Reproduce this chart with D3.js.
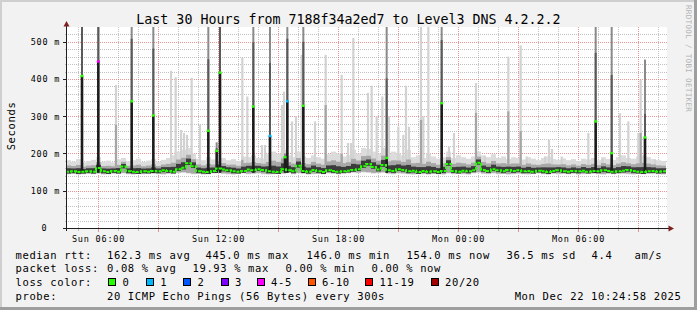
<!DOCTYPE html>
<html><head><meta charset="utf-8">
<script src="https://cdn.jsdelivr.net/npm/d3@7"></script>
<style>html,body{margin:0;padding:0;background:#f2f2f2;}svg{display:block;}</style>
</head><body><svg id="c" width="697" height="310"></svg>
<script>
// ---------------- data ----------------
const titleText = "Last 30 Hours from 7188f34a2ed7 to Level3 DNS 4.2.2.2";
const startTime = "2025-12-21 04:25";
const endTime = "2025-12-22 10:25";
const binMinutes = 15;
// baseline median rtt per 15-minute bin (ms)
const baseMedian = [151,152,150,151,152,151,161,152,150,153,
  151,165,152,151,150,152,151,153,152,155,
  153,151,158,162,174,166,152,151,150,153,
  160,157,155,152,151,153,157,155,158,156,
  152,151,150,158,155,152,167,153,151,156,
  152,150,155,153,151,152,154,156,158,166,
  172,164,157,169,155,153,158,156,152,154,
  150,153,151,152,150,153,172,153,151,154,
  152,155,175,156,153,158,155,152,156,153,
  155,152,153,151,154,152,150,153,155,152,
  151,153,152,154,151,153,152,155,153,151,
  152,154,156,153,151,150,152,153,151,152];
// lowest ping per bin (ms)
const baseLow = [144,145,143,144,146,144,145,143,144,145,
  145,146,144,143,145,144,146,145,144,143,
  145,146,147,148,146,144,145,143,144,146,
  147,145,144,143,145,146,144,145,146,144,
  143,144,146,145,147,144,146,145,143,144,
  145,144,146,145,144,147,146,148,147,149,
  148,146,147,148,145,144,146,145,144,143,
  145,144,143,145,144,143,146,144,145,144,
  143,146,148,145,144,146,144,145,143,144,
  145,144,143,145,146,144,143,145,144,146,
  144,145,143,144,146,145,144,143,145,144,
  146,145,144,143,145,144,146,145,144,143];
// highest ping per bin outside the spikes (ms)
const baseHigh = [182,178,185,176,180,183,190,178,181,176,
  184,188,179,182,186,177,181,185,178,183,
  188,195,205,210,215,200,186,182,190,184,
  195,188,182,185,180,192,190,195,188,186,
  198,205,200,210,195,190,205,192,188,195,
  190,186,198,205,200,192,195,210,200,215,
  212,205,200,215,198,205,200,195,210,190,
  195,188,200,192,186,190,205,188,195,190,
  186,192,205,195,190,198,188,192,185,190,
  188,184,190,186,182,188,192,185,183,187,
  182,185,180,186,184,188,182,190,185,183,
  190,195,188,186,192,195,190,185,182,180];
// samples whose median jumped (ms), with their max ping and loss class
const spikeTimes = ["2025-12-21 05:13","2025-12-21 06:02","2025-12-21 07:42","2025-12-21 08:47",
  "2025-12-21 11:32","2025-12-21 11:57","2025-12-21 12:07","2025-12-21 13:47","2025-12-21 14:37",
  "2025-12-21 15:22","2025-12-21 15:29","2025-12-21 16:17","2025-12-21 20:27","2025-12-21 23:12",
  "2025-12-22 06:54","2025-12-22 07:42","2025-12-22 09:22"];
const spikeMedian = [408,447,340,302,261,207,417,326,247,190,340,328,188,335,286,201,243];
const spikeMax =    [900,900,900,900,900,230,900,900,900,200,900,900,900,900,900,900,452];
const spikeLoss =   [0,4,0,0,0,0,0,0,1,0,1,0,0,0,0,0,0];
// smoke-only spikes: max ping and darker inner part (0 = none)
const smokeTimes = ["2025-12-21 06:55","2025-12-21 09:40","2025-12-21 09:54","2025-12-21 10:10",
  "2025-12-21 10:19","2025-12-21 10:28","2025-12-21 10:42","2025-12-21 11:07","2025-12-21 13:14",
  "2025-12-21 13:29","2025-12-21 14:13","2025-12-21 14:22","2025-12-21 15:13","2025-12-21 15:19",
  "2025-12-21 15:43","2025-12-21 15:55","2025-12-21 16:12","2025-12-21 16:52","2025-12-21 17:24",
  "2025-12-21 18:12","2025-12-21 18:31","2025-12-21 18:40","2025-12-21 18:47","2025-12-21 19:31",
  "2025-12-21 19:42","2025-12-21 19:57","2025-12-21 20:14","2025-12-21 20:34","2025-12-21 21:02",
  "2025-12-21 21:17","2025-12-21 21:25","2025-12-21 21:34","2025-12-21 22:10","2025-12-21 22:17",
  "2025-12-21 22:32","2025-12-21 23:34","2025-12-21 23:49","2025-12-22 00:55","2025-12-22 01:22",
  "2025-12-22 02:32","2025-12-22 03:09","2025-12-22 03:27","2025-12-22 04:22","2025-12-22 04:34",
  "2025-12-22 04:43","2025-12-22 05:12","2025-12-22 06:32","2025-12-22 07:15","2025-12-22 08:07",
  "2025-12-22 08:32","2025-12-22 09:02","2025-12-22 09:09","2025-12-22 09:52"];
const smokeMax = [384,422,405,263,255,250,403,277,457,
  353,223,223,330,366,286,300,465,286,465,
  411,228,228,510,363,382,300,353,300,272,
  250,382,272,900,300,900,218,255,389,192,
  460,490,192,192,237,212,192,255,186,308,
  286,255,398,183];
const smokeMid = [277,0,0,0,0,0,0,0,183,
  0,0,0,0,0,0,0,0,0,330,
  199,0,0,0,0,0,0,0,0,0,
  0,0,0,290,0,0,0,0,309,0,
  313,260,0,0,0,0,0,0,0,0,
  0,0,255,0];
const yTicks = [0,100,200,300,400,500];
const yTickLabels = ["0","100 m","200 m","300 m","400 m","500 m"];
const xLabelTimes = ["2025-12-21 06:00","2025-12-21 12:00","2025-12-21 18:00","2025-12-22 00:00","2025-12-22 06:00"];
const xTickLabels = ["Sun 06:00","Sun 12:00","Sun 18:00","Mon 00:00","Mon 06:00"];
const lossLabels = ["0","1","2","3","4-5","6-10","11-19","20/20"];
const lossColors = ["#26ff00","#00b8ff","#0059ff","#7e00ff","#ff00ff","#ff5500","#ff0000","#a10000"];
const rttStats = ["162.3 ms avg","445.0 ms max","146.0 ms min","154.0 ms now","36.5 ms sd","4.4","am/s"];
const lossStats = ["0.08 % avg","19.93 % max","0.00 % min","0.00 % now"];
const probeText = "20 ICMP Echo Pings (56 Bytes) every 300s";
const dateText = "Mon Dec 22 10:24:58 2025";

// ---------------- layout ----------------
const W = 697, H = 310;
const X0 = 66, X1 = 666, YB = 228, YT = 27;
const parse = d3.utcParse("%Y-%m-%d %H:%M");
const t0 = parse(startTime), t1 = parse(endTime);
const x = d3.scaleUtc().domain([t0, t1]).range([X0, X1]);
const y = d3.scaleLinear().domain([0, 539.5]).range([YB, YT]);
const mono = "DejaVu Sans Mono";
const svg = d3.select("#c");

// background & frame
svg.append("rect").attr("width", W).attr("height", H).attr("fill", "#f2f2f2");
svg.append("rect").attr("x",0).attr("y",0).attr("width",W).attr("height",2).attr("fill","#cfcfcf");
svg.append("rect").attr("x",0).attr("y",0).attr("width",2).attr("height",H).attr("fill","#cfcfcf");
svg.append("rect").attr("x",0).attr("y",H-3).attr("width",W).attr("height",3).attr("fill","#9e9e9e");
svg.append("rect").attr("x",W-3).attr("y",0).attr("width",3).attr("height",H).attr("fill","#9e9e9e");
// canvas
svg.append("rect").attr("x", X0).attr("y", YT).attr("width", X1 - X0 + 1).attr("height", YB - YT).attr("fill", "#ffffff");

// grid
const grid = svg.append("g");
const minorY = d3.range(20, 540, 20).filter(v => v % 100 !== 0);
const majorY = yTicks.filter(v => v > 0);
const hours = d3.utcHour.range(d3.utcHour.ceil(t0), t1);
const minorX = hours.filter(h => h.getUTCHours() % 3 !== 0);
const majorX = hours.filter(h => h.getUTCHours() % 3 === 0);
const crisp = v => Math.round(v) + 0.5;
const gMinor = "rgba(143,143,143,0.55)", gMajor = "rgba(222,79,79,0.6)";
minorY.forEach(v => grid.append("line").attr("x1", X0).attr("x2", X1 + 1).attr("y1", crisp(y(v))).attr("y2", crisp(y(v)))
  .attr("stroke", gMinor).attr("stroke-dasharray", "1,1"));
minorX.forEach(t => grid.append("line").attr("x1", crisp(x(t))).attr("x2", crisp(x(t))).attr("y1", YT).attr("y2", YB)
  .attr("stroke", gMinor).attr("stroke-dasharray", "1,1"));
majorY.forEach(v => grid.append("line").attr("x1", X0).attr("x2", X1 + 1).attr("y1", crisp(y(v))).attr("y2", crisp(y(v)))
  .attr("stroke", gMajor).attr("stroke-dasharray", "1,1"));
majorX.forEach(t => grid.append("line").attr("x1", crisp(x(t))).attr("x2", crisp(x(t))).attr("y1", YT).attr("y2", YB)
  .attr("stroke", gMajor).attr("stroke-dasharray", "1,1"));

// clip
svg.append("clipPath").attr("id", "clip").append("rect").attr("x", X0 + 1).attr("y", YT).attr("width", X1 - X0).attr("height", YB - YT);
const plot = svg.append("g").attr("clip-path", "url(#clip)");

const bins = baseMedian.map((m, k) => ({
  a: d3.utcMinute.offset(t0, k * binMinutes), b: d3.utcMinute.offset(t0, (k + 1) * binMinutes),
  med: m, lo: baseLow[k], hi: baseHigh[k]
}));
function band(sel, data, lo, hi, color) {
  sel.selectAll(null).data(data).enter().append("rect")
    .attr("x", d => x(d.a)).attr("width", d => x(d.b) - x(d.a))
    .attr("y", d => y(hi(d))).attr("height", d => Math.max(0, y(lo(d)) - y(hi(d))))
    .attr("fill", color);
}
// light outer smoke
band(plot, bins, d => d.lo, d => d.hi, "#dcdcdc");

// smoke-only spikes
const smokes = smokeTimes.map((s, i) => ({ t: parse(s), max: smokeMax[i], mid: smokeMid[i] }));
plot.selectAll(null).data(smokes).enter().append("rect")
  .attr("x", d => x(d.t) - 1.1).attr("width", 2.2)
  .attr("y", d => y(d.max)).attr("height", d => y(150) - y(d.max)).attr("fill", "#d2d2d2");
plot.selectAll(null).data(smokes.filter(d => d.mid > 0)).enter().append("rect")
  .attr("x", d => x(d.t) - 1.1).attr("width", 2.2)
  .attr("y", d => y(d.mid)).attr("height", d => y(150) - y(d.mid)).attr("fill", "#a5a5a5");

// inner smoke
band(plot, bins, d => d.lo + 2, d => d.med + (d.hi - d.med) * 0.55, "#a8a8a8");
band(plot, bins, d => d.med - 5, d => d.med + (d.hi - d.med) * 0.3, "#3c3c3c");

// median spikes
const spikes = spikeTimes.map((s, i) => ({ t: parse(s), med: spikeMedian[i], max: spikeMax[i], loss: spikeLoss[i] }));
plot.selectAll(null).data(spikes).enter().append("rect")
  .attr("x", d => x(d.t) - 1).attr("width", 2)
  .attr("y", d => y(d.max)).attr("height", d => Math.max(0, y(d.med) - y(d.max))).attr("fill", "#8a8a8a");
plot.selectAll(null).data(spikes).enter().append("rect")
  .attr("x", d => x(d.t) - 1).attr("width", 2)
  .attr("y", d => y(Math.min(d.max, d.med + (d.max - d.med) * 0.3))).attr("height", d => Math.max(0, y(d.med) - y(Math.min(d.max, d.med + (d.max - d.med) * 0.3))))
  .attr("fill", "#5a5a5a");
plot.selectAll(null).data(spikes).enter().append("rect")
  .attr("x", d => x(d.t) - 1.3).attr("width", 2.6)
  .attr("y", d => y(d.med)).attr("height", d => y(148) - y(d.med)).attr("fill", "#1c1c1c");

// median line (step)
const stepData = bins.map(d => [x(d.a), y(d.med)]).concat([[x(bins[bins.length - 1].b), y(bins[bins.length - 1].med)]]);
plot.append("path").attr("d", d3.line().curve(d3.curveStepAfter)(stepData))
  .attr("fill", "none").attr("stroke", lossColors[0]).attr("stroke-width", 2).attr("stroke-dasharray", "3,1.2");
// loss-coloured median marks on spikes
plot.selectAll(null).data(spikes).enter().append("rect")
  .attr("x", d => x(d.t) - 1.5).attr("width", 3)
  .attr("y", d => y(d.med) - 1.2).attr("height", 2.4).attr("fill", d => lossColors[d.loss]);

// axes
const axisC = "#1f1f1f", arrowC = "#801f1f";
svg.append("line").attr("x1", 63).attr("x2", 670).attr("y1", YB + 0.5).attr("y2", YB + 0.5).attr("stroke", axisC);
svg.append("line").attr("x1", X0 + 0.5).attr("x2", X0 + 0.5).attr("y1", YB + 3).attr("y2", 25).attr("stroke", axisC);
svg.append("path").attr("d", `M${X0 + 0.5},21 L${X0 - 2.5},26.5 L${X0 + 3.5},26.5 Z`).attr("fill", arrowC);
svg.append("path").attr("d", `M674,${YB + 0.5} L668.5,${YB - 2.5} L668.5,${YB + 3.5} Z`).attr("fill", arrowC);
// y ticks
minorY.forEach(v => svg.append("line").attr("x1", X0 - 1).attr("x2", X0).attr("y1", crisp(y(v))).attr("y2", crisp(y(v))).attr("stroke", gMinor));
yTicks.forEach(v => svg.append("line").attr("x1", X0 - 3).attr("x2", X0).attr("y1", crisp(y(v))).attr("y2", crisp(y(v))).attr("stroke", axisC));
// x ticks
minorX.forEach(t => svg.append("line").attr("x1", crisp(x(t))).attr("x2", crisp(x(t))).attr("y1", YB + 1).attr("y2", YB + 3).attr("stroke", gMinor));
majorX.forEach(t => svg.append("line").attr("x1", crisp(x(t))).attr("x2", crisp(x(t))).attr("y1", YB + 1).attr("y2", YB + 4).attr("stroke", gMajor));

function text(xp, yp, s, size, ls, anchor, color) {
  return svg.append("text").attr("x", xp).attr("y", yp).text(s)
    .attr("font-family", mono).attr("font-size", size).attr("letter-spacing", ls)
    .attr("text-anchor", anchor || "start").attr("fill", color || "#000").attr("xml:space", "preserve");
}
// tick labels
yTicks.forEach((v, i) => {
  const lab = yTickLabels[i];
  text(lab.length > 1 ? 60.3 : 47.5, y(v) + 3.3, lab, 8.5, 0.8, "end");
});
xLabelTimes.forEach((s, i) => text(x(parse(s)) + 0.9, 241.5, xTickLabels[i], 8.5, 0.8, "middle"));

// title & vertical labels
text(348.5, 24, titleText, 13.3, 0, "middle");
svg.append("text").attr("transform", "translate(15,126) rotate(-90)").text("Seconds")
  .attr("font-family", mono).attr("font-size", 10.5).attr("letter-spacing", 0.63).attr("text-anchor", "middle");
svg.append("text").attr("transform", "translate(685.5,5) rotate(90)").text("RRDTOOL / TOBI OETIKER")
  .attr("font-family", mono).attr("font-size", 7.6).attr("letter-spacing", 0.3).attr("fill", "#b4b4b4");

// legend
const LS = 10.5, LL = 0.63;
const rows = [258.5, 272, 286, 299.5];
text(15.5, rows[0], "median rtt:", LS, LL);
const rttX = [107, 205.5, 306.5, 406.5, 506.5, 591.5, 634.5];
rttStats.forEach((s, i) => text(rttX[i], rows[0], s, LS, LL));
text(15.5, rows[1], "packet loss:", LS, LL);
const lossX = [107, 192.5, 285.5, 371.5];
lossStats.forEach((s, i) => text(lossX[i], rows[1], s, LS, LL));
text(15.5, rows[2], "loss color:", LS, LL);
const boxX = [108.3, 146, 183.3, 220.7, 256.7, 307.7, 365.3, 430.7];
lossLabels.forEach((s, i) => {
  svg.append("rect").attr("x", Math.round(boxX[i]) + 0.5).attr("y", 278.5).attr("width", 7).attr("height", 7)
    .attr("fill", lossColors[i]).attr("stroke", "#000").attr("stroke-width", 1);
  text(boxX[i] + 14.3, rows[2], s, LS, LL);
});
text(15.5, rows[3], "probe:", LS, LL);
text(107, rows[3], probeText, LS, LL);
text(681.5, rows[3], dateText, LS, LL, "end");
</script></body></html>
